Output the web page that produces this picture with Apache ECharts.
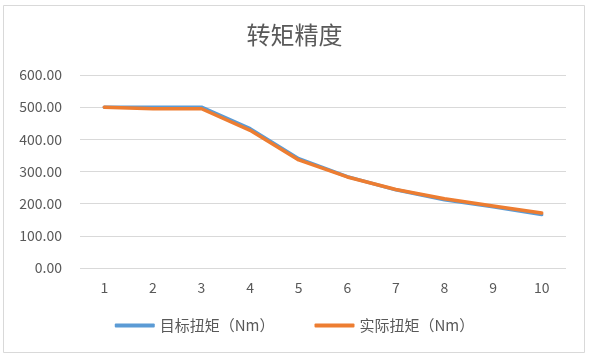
<!DOCTYPE html>
<html><head><meta charset="utf-8">
<script src="https://cdn.jsdelivr.net/npm/echarts@6/dist/echarts.min.js"></script>
<style>html,body{margin:0;padding:0;background:#fff}#c{width:589px;height:356px}</style>
</head><body><div id="c"></div>
<script>
const categories = ['1','2','3','4','5','6','7','8','9','10'];
const targetTorque = [500, 500, 500, 433, 340, 284, 243, 212, 190, 166];
const actualTorque = [500, 495, 495, 428, 336, 283, 244, 215, 193, 171];
const seriesNames = ['目标扭矩（Nm）', '实际扭矩（Nm）'];
const font = '"Noto Sans CJK SC", "Microsoft YaHei", sans-serif';
const chart = echarts.init(document.getElementById('c'));
chart.setOption({
  animation: false,
  backgroundColor: '#fff',
  graphic: [{type:'rect', shape:{x:3.5, y:5.5, width:581, height:347}, style:{fill:'none', stroke:'#d9d9d9', lineWidth:1}, silent:true}],
  title: {text:'转矩精度', left:'center', top:18, textStyle:{fontFamily:font, fontSize:24, fontWeight:'normal', color:'#595959'}},
  legend: {
    bottom: 18, left: 'center', itemGap: 40, itemWidth: 40, itemHeight: 4,
    icon: 'roundRect',
    textStyle:{fontFamily:font, fontSize:15, color:'#595959'},
    data: seriesNames
  },
  grid: {left:80, right:23, top:75, bottom:88, containLabel:false},
  xAxis: {
    type:'category', data:categories, boundaryGap:true,
    axisLine:{show:false}, axisTick:{show:false},
    axisLabel:{fontFamily:font, fontSize:14, color:'#595959', margin:13}
  },
  yAxis: {
    type:'value', min:0, max:600, interval:100,
    axisLabel:{fontFamily:font, fontSize:14, color:'#595959', margin:18, formatter:v=>v.toFixed(2)},
    splitLine:{lineStyle:{color:'#d9d9d9', width:1}},
    axisLine:{show:false}, axisTick:{show:false}
  },
  series: [
    {name:seriesNames[0], type:'line', data:targetTorque, symbol:'none', lineStyle:{color:'#5b9bd5', width:3.5, cap:'round', join:'round'}, itemStyle:{color:'#5b9bd5'}},
    {name:seriesNames[1], type:'line', data:actualTorque, symbol:'none', lineStyle:{color:'#ed7d31', width:3.5, cap:'round', join:'round'}, itemStyle:{color:'#ed7d31'}}
  ]
});
</script></body></html>
